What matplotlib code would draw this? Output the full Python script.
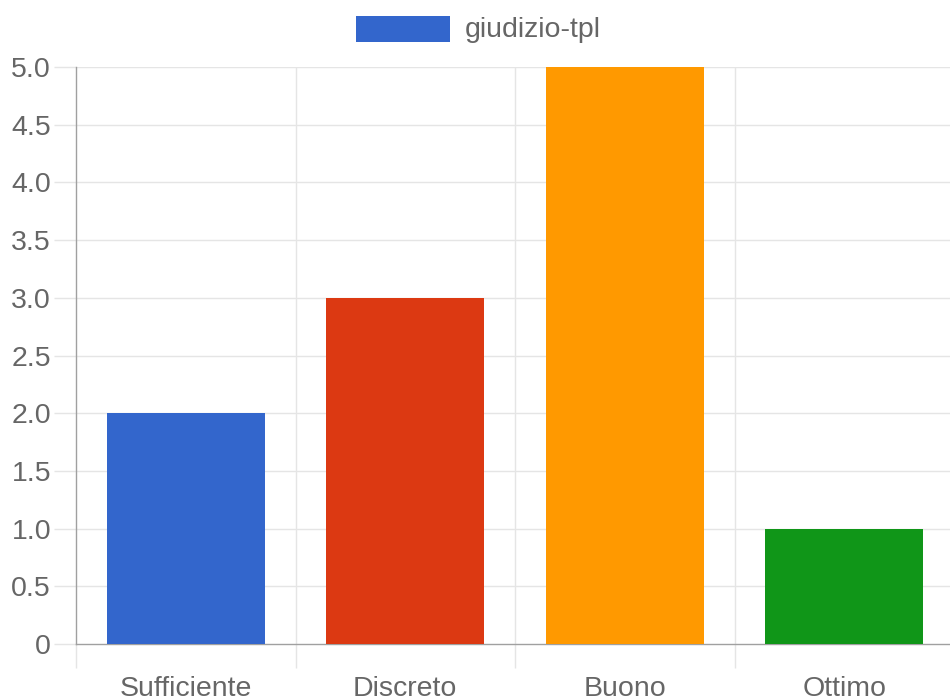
import numpy as np, matplotlib
matplotlib.use('Agg'); import matplotlib.pyplot as plt
from matplotlib.patches import Rectangle
from matplotlib.ticker import FixedLocator, FuncFormatter

cats=['Sufficiente','Discreto','Buono','Ottimo']
vals=[2,3,5,1]
cols=['#3366cc','#dc3912','#ff9900','#109618']
series='giudizio-tpl'
yticks=np.arange(0,5.01,0.5)

plt.rcParams['font.family']=['Liberation Sans','DejaVu Sans']
fs=20.5
fig=plt.figure(figsize=(9.5,7),dpi=100)
ax=fig.add_axes([76/950,1-644/700,878/950,577/700])
x=np.arange(len(cats))
ax.bar(x,vals,width=0.72,color=cols,zorder=3)
ax.set_xlim(-0.5,len(cats)-0.5); ax.set_ylim(0,5)
grid='#e5e5e5'; spine='#a0a0a0'; tc='#666666'
ax.set_yticks(yticks)
ax.yaxis.set_major_formatter(FuncFormatter(lambda v,p: '0' if v==0 else f'{v:.1f}'))
ax.set_xticks(x); ax.set_xticklabels(cats)
ax.xaxis.set_minor_locator(FixedLocator(np.arange(-0.5,len(cats),1)))
ax.tick_params(axis='x',which='major',length=0,pad=23,labelsize=fs,labelcolor=tc)
ax.tick_params(axis='x',which='minor',length=17,width=1,color=grid,direction='out')
ax.tick_params(axis='y',length=16,width=1,color=grid,pad=2,labelsize=fs,labelcolor=tc)
for v in yticks[1:]: ax.axhline(v,color=grid,lw=1,zorder=1)
for v in np.arange(0.5,len(cats)-0.5,1): ax.axvline(v,color=grid,lw=1,zorder=1)
for s in ['top','right']: ax.spines[s].set_visible(False)
for s in ['left','bottom']: ax.spines[s].set_color(spine); ax.spines[s].set_linewidth(1)
# legend
fig.patches.append(Rectangle((356/950,1-42/700),94/950,26/700,transform=fig.transFigure,fc=cols[0],ec='none'))
fig.text(465/950,1-30/700,series,ha='left',va='center',fontsize=fs,color=tc)
fig.savefig('out.png',dpi=100)
